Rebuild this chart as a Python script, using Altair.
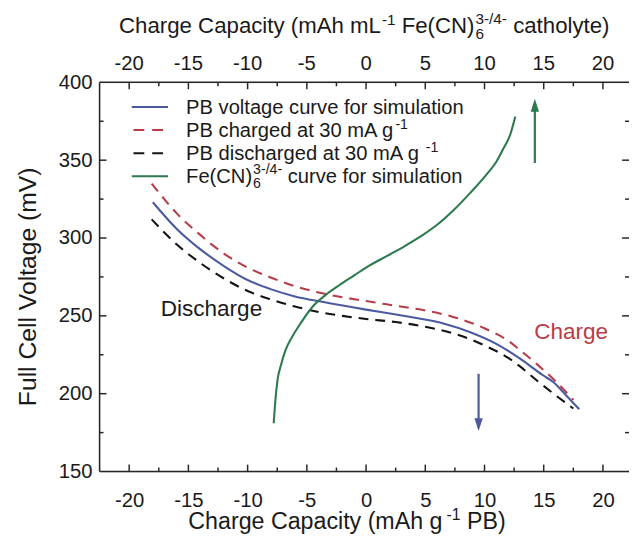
import altair as alt
import pandas as pd

# ---------------- data ----------------
pb_sim_cap = [-18, -16, -14.2, -12, -10, -8, -6, -3.7, 0, 2.4, 4.7, 6.6, 8.8, 11, 13, 14.9, 15.8, 17, 18]
pb_sim_v = [323, 306, 294, 282, 273, 267, 262.5, 259, 254, 251, 248, 245, 239.5, 232, 222.5, 212, 207.5, 198, 190]

pb_chg_cap = [-18.1, -16, -14, -12, -10, -8, -6, -4, -2, 0, 2.5, 5, 7.5, 10, 12, 13, 14.5, 16, 17.5]
pb_chg_v = [335, 316, 302, 290, 281, 274.5, 269, 265, 262, 259.5, 256.5, 253.5, 249, 242, 234, 228, 218.5, 208, 196]

pb_dis_cap = [-18.1, -16, -14, -12, -10, -8, -6, -4, -2, 0, 2.5, 5, 7.5, 10, 12, 13, 14.5, 16, 17.5]
pb_dis_v = [312, 296, 284, 274, 266, 260.5, 256, 252.5, 250, 248, 246, 243, 238.5, 231, 223, 217.5, 208, 199, 190.5]

fe_cap = [-7.8, -7.65, -7.45, -7.2, -6.8, -6.2, -5.5, -4.5, -3.4, -2.3, -1, 0, 1.9, 3.2, 4.7, 6, 7.4, 8.8, 10.2, 11, 11.6, 12.2, 12.6]
fe_v = [181, 196, 210, 218, 228, 237, 245.5, 256, 263.5, 269.5, 276, 281, 289, 294.5, 301.5, 308.5, 318, 329, 341, 349, 357.5, 367, 378]

x_major = [-20, -15, -10, -5, 0, 5, 10, 15, 20]
x_minor = [-17.5, -12.5, -7.5, -2.5, 2.5, 7.5, 12.5, 17.5]
x_top_labels = ["-20", "-15", "-10", "-5", "0", "5", "10", "15", "20"]
y_major = [200, 250, 300, 350]
y_minor = [175, 225, 275, 325, 375]
y_labels = [150, 200, 250, 300, 350, 400]

legend_labels = ["PB voltage curve for simulation", "PB charged at 30 mA g", "PB discharged at 30 mA g ", "Fe(CN)"]

# arrows (capacity, voltage tail, voltage head-base, voltage head-centre)
green_arrow = {"cap": [14.25], "v0": [348.2], "v1": [382.0], "vh": [385.3]}
blue_arrow = {"cap": [9.5], "v0": [212.8], "v1": [182.5], "vh": [180.1]}

# ---------------- styling ----------------
FONT = "Liberation Sans"
BLUE = "#4c5aa0"
RED = "#b83c48"
BLACK = "#141414"
GREEN = "#2c7a4e"
TEXT = "#1a1a1a"
AXISC = "#262626"
W, H = 536, 394
TICKFS = 20.5

x_scale = alt.Scale(domain=[-22.5, 22.2], nice=False, zero=False)
y_scale = alt.Scale(domain=[150, 400], nice=False, zero=False)
x_axis = alt.Axis(values=x_major, labelExpr="'' + datum.value", labelFontSize=TICKFS, labelFont=FONT,
                  labelColor=TEXT, ticks=False, tickSize=0, domain=False, grid=False,
                  labelPadding=29.2, labelBaseline="middle", title=None, labelFlush=False)
y_axis = alt.Axis(values=y_labels, labelFontSize=TICKFS, labelFont=FONT, labelColor=TEXT,
                  ticks=False, tickSize=0, domain=False, grid=False, labelPadding=7.7,
                  title=None, labelFlush=False)

CW = {' ': 278, '(': 333, ')': 333, '-': 333, '/': 278, 'A': 667, 'B': 667, 'C': 722, 'D': 722,
      'F': 611, 'L': 556, 'N': 722, 'P': 667, 'V': 667, 'a': 556, 'c': 500, 'd': 556, 'e': 556,
      'f': 278, 'g': 556, 'h': 556, 'i': 222, 'l': 222, 'm': 833, 'n': 556, 'o': 556, 'p': 556,
      'r': 333, 's': 500, 't': 278, 'u': 556, 'v': 500, 'y': 500}


def tw(s, size):
    return sum(CW.get(ch, 556) for ch in s) * size / 1000.0


def one():
    return alt.Data(values=[{}])


def txt(s, px, py, size, color=TEXT, align="left", baseline="alphabetic", angle=0):
    return alt.Chart(one()).mark_text(
        text=s, fontSize=size, font=FONT, color=color, align=align, baseline=baseline, angle=angle
    ).encode(x=alt.value(px), y=alt.value(py))


def rich(segments, x0, y0, size, script, color=TEXT, anchor="left"):
    items = []
    x = 0.0

    def add(s, dy, fs):
        lead = len(s) - len(s.lstrip(" "))
        body = s.strip(" ")
        if body:
            items.append((body, x + tw(" " * lead, fs), dy, fs))

    for seg in segments:
        if seg[0] == "n":
            add(seg[1], 0.0, size); x += tw(seg[1], size)
        elif seg[0] == "sup":
            add(seg[1], -0.40 * size, script); x += tw(seg[1], script)
        elif seg[0] == "stack":
            add(seg[1], 0.24 * size, script)
            add(seg[2], -0.44 * size, script)
            x += max(tw(seg[1], script), tw(seg[2], script))
        elif seg[0] == "gap":
            x += seg[1]
    if anchor == "center":
        x0 = x0 - x / 2.0
    return [txt(t, x0 + dx, y0 + dy, s, color) for t, dx, dy, s in items]


def series(caps, vs, color, dash=None):
    kw = dict(color=color, strokeWidth=2.1, interpolate="monotone")
    if dash:
        kw["strokeDash"] = dash
    return alt.Chart(pd.DataFrame({"cap": caps, "v": vs})).mark_line(**kw).encode(
        x=alt.X("cap:Q", scale=x_scale, axis=x_axis),
        y=alt.Y("v:Q", scale=y_scale, axis=y_axis),
    )


layers = []

# curves
layers.append(series(pb_sim_cap, pb_sim_v, BLUE))
layers.append(series(pb_chg_cap, pb_chg_v, RED, [10, 7]))
layers.append(series(pb_dis_cap, pb_dis_v, BLACK, [10, 7]))
layers.append(series(fe_cap, fe_v, GREEN))

# frame: left, top, bottom (the right spine lies just outside the picture)
layers.append(alt.Chart(one()).mark_rule(color=AXISC, strokeWidth=1.5).encode(
    x=alt.value(0), x2=alt.value(W), y=alt.value(0)))
layers.append(alt.Chart(one()).mark_rule(color=AXISC, strokeWidth=1.5).encode(
    x=alt.value(0), x2=alt.value(W), y=alt.value(H)))
layers.append(alt.Chart(one()).mark_rule(color=AXISC, strokeWidth=1.5).encode(
    x=alt.value(0), y=alt.value(0), y2=alt.value(H)))

# inward ticks
xmaj = pd.DataFrame({"cap": x_major})
xmin = pd.DataFrame({"cap": x_minor})
ymaj = pd.DataFrame({"v": y_major})
ymin = pd.DataFrame({"v": y_minor})
for df, ln in ((xmaj, 7), (xmin, 4)):
    base = alt.Chart(df).mark_rule(color=AXISC, strokeWidth=1.5)
    layers.append(base.encode(x=alt.X("cap:Q", scale=x_scale, axis=x_axis), y=alt.value(H), y2=alt.value(H - ln)))
    layers.append(base.encode(x=alt.X("cap:Q", scale=x_scale, axis=x_axis), y=alt.value(0), y2=alt.value(ln)))
for df, ln in ((ymaj, 7), (ymin, 4)):
    base = alt.Chart(df).mark_rule(color=AXISC, strokeWidth=1.5)
    layers.append(base.encode(y=alt.Y("v:Q", scale=y_scale, axis=y_axis), x=alt.value(0), x2=alt.value(ln)))
    layers.append(base.encode(y=alt.Y("v:Q", scale=y_scale, axis=y_axis), x=alt.value(W), x2=alt.value(W - ln)))

# top tick labels
layers.append(alt.Chart(pd.DataFrame({"cap": x_major, "lab": x_top_labels})).mark_text(
    fontSize=TICKFS, font=FONT, color=TEXT, align="center", baseline="middle"
).encode(x=alt.X("cap:Q", scale=x_scale, axis=x_axis), y=alt.value(-18.8), text="lab:N"))

# arrows
for arr, color, shape in ((green_arrow, GREEN, "M-0.65,1L0.65,1L0,-1Z"),
                          (blue_arrow, BLUE, "M-0.65,-1L0.65,-1L0,1Z")):
    adf = pd.DataFrame(arr)
    layers.append(alt.Chart(adf).mark_rule(color=color, strokeWidth=2.2).encode(
        x=alt.X("cap:Q", scale=x_scale, axis=x_axis),
        y=alt.Y("v0:Q", scale=y_scale, axis=y_axis), y2="v1:Q"))
    layers.append(alt.Chart(adf).mark_point(shape=shape, filled=True, size=169, color=color, opacity=1).encode(
        x=alt.X("cap:Q", scale=x_scale, axis=x_axis),
        y=alt.Y("vh:Q", scale=y_scale, axis=y_axis)))

# legend
LFS, LSC = 20.4, 14.3
LX = 87.6
rows_y = [32.2, 55.5, 78.9, 102.2]
centers = [25, 48.3, 71.7, 95]
layers.append(alt.Chart(one()).mark_rule(color=BLUE, strokeWidth=2.1).encode(
    x=alt.value(32.6), x2=alt.value(69.3), y=alt.value(centers[0])))
layers.append(alt.Chart(one()).mark_rule(color=RED, strokeWidth=2.1, strokeDash=[11, 8]).encode(
    x=alt.value(34.3), x2=alt.value(64.3), y=alt.value(centers[1])))
layers.append(alt.Chart(one()).mark_rule(color=BLACK, strokeWidth=2.1, strokeDash=[11, 8]).encode(
    x=alt.value(34.3), x2=alt.value(64.3), y=alt.value(centers[2])))
layers.append(alt.Chart(one()).mark_rule(color=GREEN, strokeWidth=2.1).encode(
    x=alt.value(32.6), x2=alt.value(69.3), y=alt.value(centers[3])))

layers += rich([("n", legend_labels[0])], LX, rows_y[0], LFS, LSC)
layers += rich([("n", legend_labels[1]), ("gap", 1), ("sup", "-1")], LX, rows_y[1], LFS, LSC)
layers += rich([("n", legend_labels[2]), ("sup", "-1")], LX, rows_y[2], LFS, LSC)
layers += rich([("n", legend_labels[3]), ("gap", 1), ("stack", "6", "3-/4-"), ("n", " curve for simulation")],
               LX, rows_y[3], LFS, LSC)

# annotations
layers.append(txt("Discharge", 113.3, 229.8, 22.8, TEXT, align="center", baseline="middle"))
layers.append(txt("Charge", 477.5, 252.7, 22.8, RED, align="center", baseline="middle"))

# titles
layers += rich([("n", "Charge Capacity (mAh mL"), ("gap", 1), ("sup", "-1"), ("n", " Fe(CN)"), ("gap", 1),
                ("stack", "6", "3-/4-"), ("n", " catholyte)")], 268, -49.5, 22.5, 15.5, anchor="center")
layers += rich([("n", "Charge Capacity (mAh g"), ("gap", 4), ("sup", "-1"), ("n", " PB)")],
               250.5, 452.5, 23.5, 16, anchor="center")
layers.append(txt("Full Cell Voltage (mV)", -72, 207, 25, TEXT, align="center", baseline="middle", angle=270))

chart = alt.layer(*layers).properties(
    width=W, height=H,
    autosize=alt.AutoSizeParams(type="none"),
    padding={"left": 92.7, "top": 72, "right": 0, "bottom": 62},
).configure_view(stroke="transparent", strokeWidth=0).configure(background="white")

chart.save("out.html", embed_options={"renderer": "svg", "actions": False})
